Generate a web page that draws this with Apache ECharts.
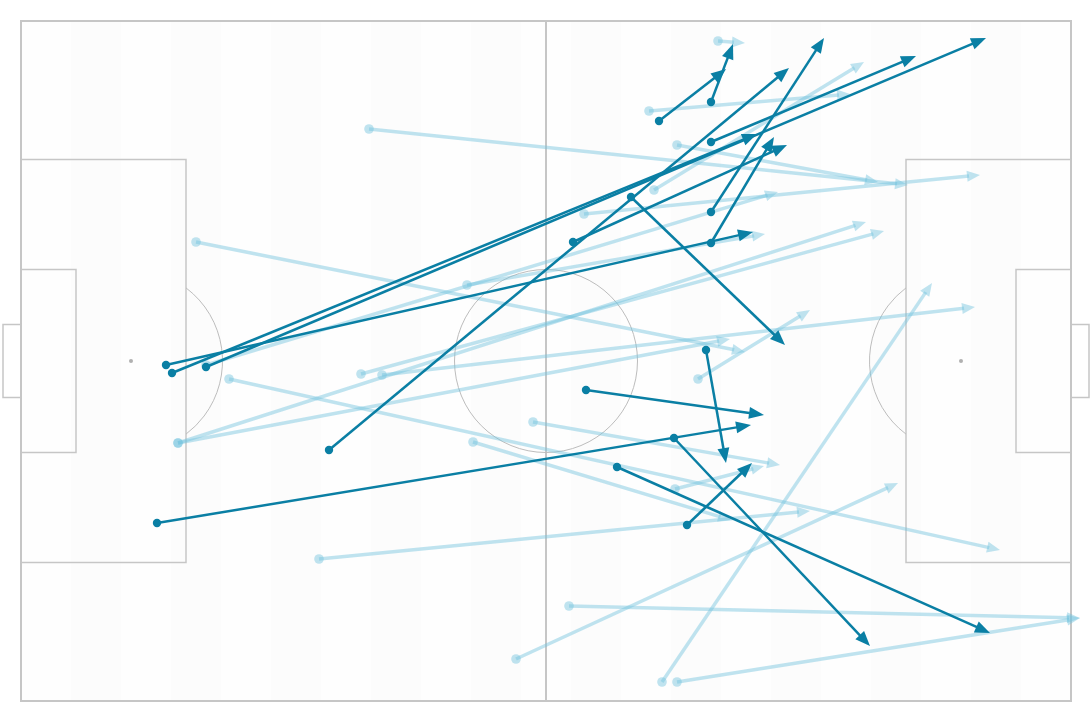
<!DOCTYPE html>
<html><head><meta charset="utf-8">
<script src="https://cdn.jsdelivr.net/npm/echarts@6/dist/echarts.min.js"></script>
<style>html,body{margin:0;padding:0;background:#fff}#c{width:1090px;height:720px}</style>
</head><body><div id="c"></div>
<script>
// Pitch dimensions (metres)
const pitchLength = 105, pitchWidth = 68;

// Completed passes (dark): start x/y, end x/y in metres (y measured from top touchline)
const darkStartX = [63.8, 69.0, 69.0, 18.5, 15.1, 14.5, 69.0, 69.0, 55.2, 30.8, 61.0, 56.5, 68.5, 13.6, 65.3, 59.6, 66.6];
const darkStartY = [10.0,  8.1, 12.1, 34.6, 35.2, 34.4, 19.1, 22.2, 22.1, 42.9, 17.6, 36.9, 32.9, 50.2, 41.7, 44.6, 50.4];
const darkEndX   = [70.5, 71.2, 89.5, 96.5, 73.6, 73.2, 80.3, 75.3, 76.6, 76.8, 76.4, 74.3, 70.5, 73.0, 84.9, 96.9, 73.1];
const darkEndY   = [ 4.8,  2.3,  3.5,  1.7, 11.3, 21.1,  1.7, 11.6, 12.4,  4.7, 32.4, 39.4, 44.2, 40.4, 62.5, 61.2, 44.2];

// Other passes (light)
const lightStartX = [69.7, 62.8, 65.6, 34.8, 63.3, 56.3, 44.6, 17.5, 15.7, 15.7, 34.0, 36.1, 20.8, 51.2, 45.2, 67.7, 29.8, 49.5, 54.8, 65.6, 64.1, 18.5, 65.4];
const lightStartY = [ 2.0,  9.0, 12.4, 10.8, 16.9, 19.3, 26.4, 22.1, 42.2, 42.2, 35.3, 35.4, 35.8, 40.1, 42.1, 35.8, 53.8, 63.8, 58.5, 66.1, 66.1, 34.4, 46.8];
const lightEndX   = [72.4, 82.9, 85.7, 88.7, 84.3, 95.9, 74.4, 72.4, 84.5, 70.9, 86.3, 95.4, 97.9, 75.9, 71.0, 78.9, 78.9, 87.7, 105.9, 105.9, 91.1, 75.7, 74.3];
const lightEndY   = [ 2.2,  7.3, 16.1, 16.4,  4.1, 15.4, 21.3, 33.1, 20.1, 31.8, 21.0, 28.6, 52.9, 44.4, 49.9, 28.9, 49.0, 46.2, 59.7, 59.7, 26.2, 17.1, 44.5];

const DARK = '#0a7fa4';
const LIGHT = '#73c4de';

function passData(sx, sy, ex, ey) {
  return sx.map((v, i) => [v, sy[i], ex[i], ey[i]]);
}

function arrowRenderer(color, opacity, lw, r, headLen, headW) {
  return function (params, api) {
    const p0 = api.coord([api.value(0), api.value(1)]);
    const p1 = api.coord([api.value(2), api.value(3)]);
    const dx = p1[0] - p0[0], dy = p1[1] - p0[1];
    const len = Math.sqrt(dx * dx + dy * dy) || 1;
    const ux = dx / len, uy = dy / len;
    const bx = p1[0] - ux * headLen, by = p1[1] - uy * headLen;
    const nx = -uy, ny = ux;
    return {
      type: 'group',
      children: [
        { type: 'line', shape: { x1: p0[0], y1: p0[1], x2: bx + ux * 2, y2: by + uy * 2 },
          style: { stroke: color, lineWidth: lw, opacity: opacity } },
        { type: 'circle', shape: { cx: p0[0], cy: p0[1], r: r },
          style: { fill: color, opacity: opacity } },
        { type: 'polygon', shape: { points: [[p1[0], p1[1]], [bx + nx * headW / 2, by + ny * headW / 2], [bx - nx * headW / 2, by - ny * headW / 2]] },
          style: { fill: color, opacity: opacity } }
      ]
    };
  };
}

function pitchRenderer(params, api) {
  const c = (x, y) => api.coord([x, y]);
  const sz = (m) => api.size([m, 0])[0];
  const children = [];
  // stripes
  const stripeW = 5;
  for (let i = 0; i * stripeW < pitchLength; i++) {
    const a = c(i * stripeW, 0), b = c(Math.min((i + 1) * stripeW, pitchLength), pitchWidth);
    children.push({ type: 'rect', shape: { x: a[0], y: a[1], width: b[0] - a[0], height: b[1] - a[1] },
      style: { fill: i % 2 === 0 ? '#fefefe' : '#fcfcfc' } });
  }
  const lineStyle = { stroke: '#c6c6c6', lineWidth: 2, fill: null };
  const thin = { stroke: '#c6c6c6', lineWidth: 1.5, fill: null };
  const rectM = (x0, y0, x1, y1, st) => {
    const a = c(x0, y0), b = c(x1, y1);
    return { type: 'rect', shape: { x: a[0], y: a[1], width: b[0] - a[0], height: b[1] - a[1] }, style: st };
  };
  children.push(rectM(0, 0, pitchLength, pitchWidth, lineStyle));
  const m1 = c(pitchLength / 2, 0), m2 = c(pitchLength / 2, pitchWidth);
  children.push({ type: 'line', shape: { x1: m1[0], y1: m1[1], x2: m2[0], y2: m2[1] }, style: { stroke: '#c6c6c6', lineWidth: 2 } });
  // boxes
  children.push(rectM(0, 13.84, 16.5, 54.16, thin));
  children.push(rectM(pitchLength - 16.5, 13.84, pitchLength, 54.16, thin));
  children.push(rectM(0, 24.84, 5.5, 43.16, thin));
  children.push(rectM(pitchLength - 5.5, 24.84, pitchLength, 43.16, thin));
  children.push(rectM(-1.8, 30.34, 0, 37.66, thin));
  children.push(rectM(pitchLength, 30.34, pitchLength + 1.8, 37.66, thin));
  // centre circle
  const cc = c(pitchLength / 2, pitchWidth / 2);
  const R = sz(9.15);
  children.push({ type: 'circle', shape: { cx: cc[0], cy: cc[1], r: R }, style: { stroke: '#bdbdbd', lineWidth: 1, fill: null } });
  // penalty spots and arcs
  const ang = Math.acos(5.5 / 9.15);
  const ps1 = c(11, pitchWidth / 2), ps2 = c(pitchLength - 11, pitchWidth / 2);
  children.push({ type: 'circle', shape: { cx: ps1[0], cy: ps1[1], r: 2 }, style: { fill: '#b0b0b0' } });
  children.push({ type: 'circle', shape: { cx: ps2[0], cy: ps2[1], r: 2 }, style: { fill: '#b0b0b0' } });
  children.push({ type: 'arc', shape: { cx: ps1[0], cy: ps1[1], r: R, startAngle: -ang, endAngle: ang, clockwise: true }, style: { stroke: '#bdbdbd', lineWidth: 1, fill: null } });
  children.push({ type: 'arc', shape: { cx: ps2[0], cy: ps2[1], r: R, startAngle: Math.PI - ang, endAngle: Math.PI + ang, clockwise: true }, style: { stroke: '#bdbdbd', lineWidth: 1, fill: null } });
  return { type: 'group', children: children };
}

const chart = echarts.init(document.getElementById('c'), null, { renderer: 'canvas' });
chart.setOption({
  animation: false,
  backgroundColor: '#ffffff',
  grid: { left: 21, top: 21, width: 1050, height: 680 },
  xAxis: { type: 'value', min: 0, max: pitchLength, show: false },
  yAxis: { type: 'value', min: 0, max: pitchWidth, inverse: true, show: false },
  series: [
    { type: 'custom', renderItem: pitchRenderer, data: [[0, 0]], clip: false, silent: true, z: 1 },
    { type: 'custom', renderItem: arrowRenderer(LIGHT, 0.45, 3.5, 4.8, 13, 11),
      data: passData(lightStartX, lightStartY, lightEndX, lightEndY), clip: false, z: 2,
      encode: { x: [0, 2], y: [1, 3] } },
    { type: 'custom', renderItem: arrowRenderer(DARK, 1, 2.5, 4.2, 15, 12),
      data: passData(darkStartX, darkStartY, darkEndX, darkEndY), clip: false, z: 3,
      encode: { x: [0, 2], y: [1, 3] } }
  ]
});
</script>
</body></html>
